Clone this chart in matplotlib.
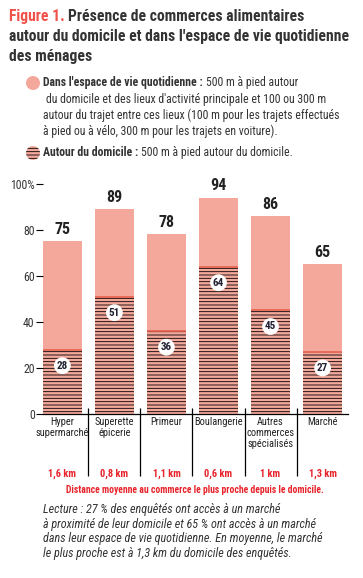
import matplotlib
matplotlib.use('Agg')
import matplotlib.pyplot as plt
from matplotlib import font_manager
from matplotlib.patches import Circle


categories = ['Hyper\nsupermarché', 'Superette\népicerie', 'Primeur', 'Boulangerie',
              'Autres\ncommerces\nspécialisés', 'Marché']
vie_quotidienne = [75, 89, 78, 94, 86, 65]
domicile = [28, 51, 36, 64, 45, 27]
distances = ['1,6 km', '0,8 km', '1,1 km', '0,6 km', '1 km', '1,3 km']
yticks = [0, 20, 40, 60, 80, 100]
ytick_labels = ['0', '20', '40', '60', '80', '100%']

SALMON = '#f4a89b'
EDGE_RED = '#e8604f'
RED = '#e8232a'
TITLE_RED = '#f0524a'
TEXT = '#333333'

W, H = 363, 578


def pick_font():
    # try to find a narrow/condensed face, the original uses one
    wanted = ['Roboto Condensed', 'Liberation Sans Narrow', 'DejaVu Sans',
              'Noto Sans', 'Open Sans', 'Roboto']
    found = {}
    for f in font_manager.fontManager.ttflist:
        st = str(f.stretch)
        if 'condensed' in st or 'Narrow' in f.name or 'Condensed' in f.name:
            found.setdefault(f.name, st)
    for name in wanted:
        if name in found:
            return name, found[name]
    return 'Liberation Sans', 'normal'


FONT, STRETCH = pick_font()
plt.rcParams['font.family'] = [FONT, 'DejaVu Sans']
plt.rcParams['font.stretch'] = STRETCH
plt.rcParams['hatch.linewidth'] = 0.6


def px(x, y):
    return x / W, 1 - y / H


fig = plt.figure(figsize=(W / 100, H / 100), dpi=100)
renderer = fig.canvas.get_renderer()


def fit_size(txt, target_px, **kw):
    # font size that makes txt about target_px wide
    t = fig.text(0, 0, txt, fontsize=10, **kw)
    w = t.get_window_extent(renderer).width
    t.remove()
    return 10 * target_px / w


def rich_line(x, y, parts, size):
    # parts: list of (text, color, weight)
    for txt, color, weight in parts:
        t = fig.text(*px(x, y), txt, fontsize=size, color=color,
                     fontweight=weight, va='center', ha='left')
        x += t.get_window_extent(renderer).width


# title
TS = fit_size("autour du domicile et dans l'espace de vie quotidienne", 340, fontweight='bold')
rich_line(9, 16.5, [('Figure 1. ', TITLE_RED, 'bold'),
                    ('Présence de commerces alimentaires', TEXT, 'bold')], TS)
fig.text(*px(9, 36.5), "autour du domicile et dans l'espace de vie quotidienne",
         fontsize=TS, color=TEXT, fontweight='bold', va='center')
fig.text(*px(9, 56.5), 'des ménages', fontsize=TS, color=TEXT,
         fontweight='bold', va='center')

# legend
LS = fit_size('autour du trajet entre ces lieux (100 m pour les trajets effectués', 294)
fig.patches.append(Circle((33 / 100, (H - 83) / 100), 0.07, transform=fig.dpi_scale_trans,
                          facecolor=SALMON, edgecolor='none'))
rich_line(43, 82.5, [("Dans l'espace de vie quotidienne : ", TEXT, 'bold'),
                     ('500 m à pied autour', TEXT, 'normal')], LS)
fig.text(*px(46, 99), "du domicile et des lieux d'activité principale et 100 ou 300 m",
         fontsize=LS, color=TEXT, va='center')
fig.text(*px(43, 115), 'autour du trajet entre ces lieux (100 m pour les trajets effectués',
         fontsize=LS, color=TEXT, va='center')
fig.text(*px(43, 131), 'à pied ou à vélo, 300 m pour les trajets en voiture).',
         fontsize=LS, color=TEXT, va='center')
fig.patches.append(Circle((33 / 100, (H - 153) / 100), 0.07, transform=fig.dpi_scale_trans,
                          facecolor=SALMON, edgecolor='black', linewidth=0, hatch='-----'))
rich_line(43, 153, [('Autour du domicile : ', TEXT, 'bold'),
                    ('500 m à pied autour du domicile.', TEXT, 'normal')], LS)

# chart
ax = fig.add_axes([43 / W, (H - 414) / H, 305 / W, 230.3 / H])
x = list(range(len(categories)))
bw = 0.744

ax.bar(x, vie_quotidienne, width=bw, color=SALMON, linewidth=0)
ax.bar(x, domicile, width=bw, color=SALMON, edgecolor='black', linewidth=0, hatch='-----')
ax.hlines(domicile, [i - bw / 2 for i in x], [i + bw / 2 for i in x],
          color=EDGE_RED, linewidth=1.2)

for i, v in enumerate(vie_quotidienne):
    ax.annotate(str(v), (i, v), xytext=(0, 8.5), textcoords='offset points',
                ha='center', va='center', fontsize=11.5, fontweight='bold',
                color='#222222', annotation_clip=False)

for i, v in enumerate(domicile):
    ax.text(i, v - 7, str(v), ha='center', va='center', fontsize=8,
            fontweight='bold', color='#222233',
            bbox=dict(boxstyle='circle,pad=0.25', facecolor='white', edgecolor='none'))

ax.set_xlim(-bw / 2, len(categories) - 1 + bw / 2 + 0.116)
ax.set_ylim(0, 100)
ax.set_yticks(yticks)
ax.set_yticklabels(ytick_labels)
ax.tick_params(axis='y', length=5, width=0.8, pad=1, labelsize=8.5, labelcolor=TEXT)
ax.set_xticks([])
for s in ['top', 'right', 'left']:
    ax.spines[s].set_visible(False)
ax.spines['bottom'].set_linewidth(0.9)

# separators under the axis
ax.vlines([i + 0.5 for i in x[:-1]], -27, 2.6, color='black', linewidth=0.9, clip_on=False)

for i, c in enumerate(categories):
    ax.annotate(c, (i, 0), xytext=(0, -2.5), textcoords='offset points',
                ha='center', va='top', fontsize=7.5, color='#222222',
                linespacing=1.1, annotation_clip=False)
    ax.annotate(distances[i], (i, 0), xytext=(0, -43), textcoords='offset points',
                ha='center', va='center', fontsize=7.5, fontweight='bold', color=RED,
                annotation_clip=False)

note = 'Distance moyenne au commerce le plus proche depuis le domicile.'
fig.text(*px(195, 490), note, fontsize=fit_size(note, 256, fontweight='bold'),
         fontweight='bold', color=RED, ha='center', va='center')

lecture = ['Lecture : 27 % des enquêtés ont accès à un marché',
           'à proximité de leur domicile et 65 % ont accès à un marché',
           'dans leur espace de vie quotidienne. En moyenne, le marché',
           'le plus proche est à 1,3 km du domicile des enquêtés.']
RS = fit_size(lecture[2], 277, style='italic')
for k, line in enumerate(lecture):
    fig.text(*px(43, 510 + k * 14.4), line, fontsize=RS, style='italic',
             color=TEXT, va='center')

fig.savefig('out.png', dpi=100)
